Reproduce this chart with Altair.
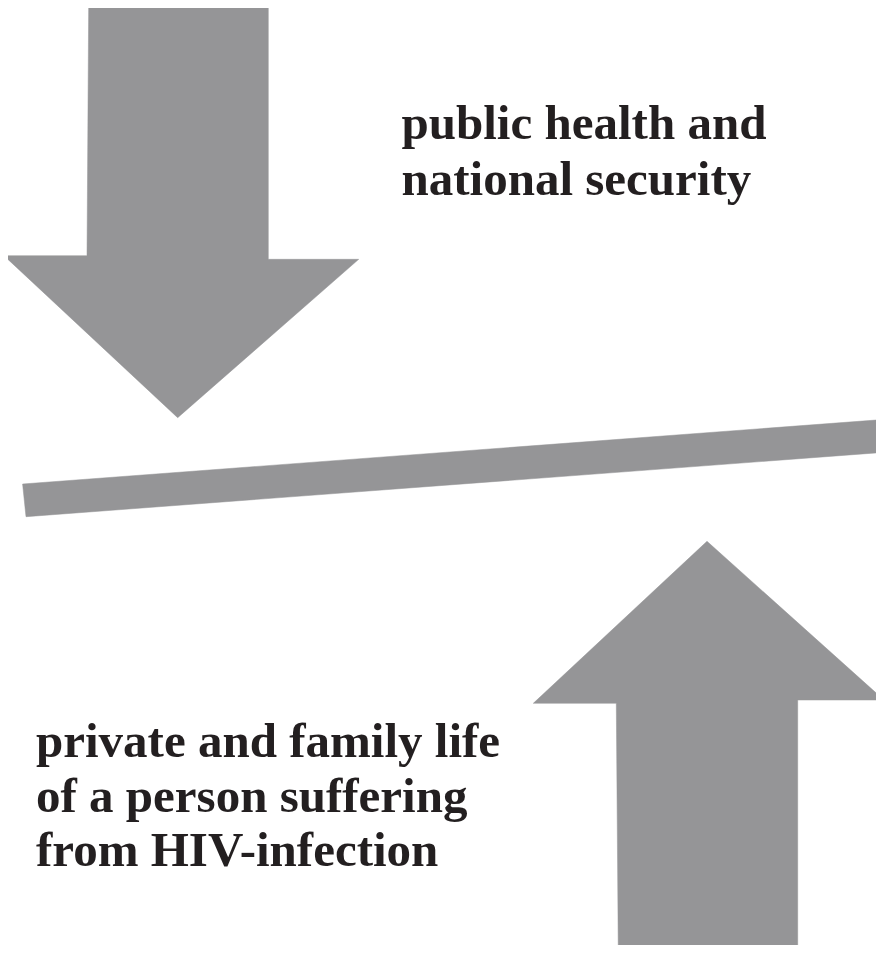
import altair as alt
import pandas as pd

# Shape outlines (in picture pixel units)
down_arrow_x = [88.7, 268.3, 268.3, 358.7, 177.7, 4.0, 87.0]
down_arrow_y = [4.3, 4.3, 259.3, 259.3, 417.7, 255.7, 255.7]

bar_x = [22.6, 876.6, 879.0, 26.0]
bar_y = [484.0, 420.0, 452.7, 516.7]

up_arrow_x = [707.0, 884.0, 797.7, 797.7, 618.3, 616.3, 533.3]
up_arrow_y = [541.3, 700.0, 700.0, 953.0, 953.0, 703.3, 703.3]

# Labels
label_lines = [
    "public health and",
    "national security",
    "private and family life",
    "of a person suffering",
    "from HIV-infection",
]
label_x = [401.5, 401.5, 36.0, 36.0, 36.0]
label_y = [139.0, 195.0, 757.0, 812.0, 866.0]

rows = []
for name, xs, ys in [("down", down_arrow_x, down_arrow_y),
                     ("bar", bar_x, bar_y),
                     ("up", up_arrow_x, up_arrow_y)]:
    for i, (x, y) in enumerate(zip(xs, ys)):
        rows.append({"shape": name, "i": i, "x": x, "y": y})
shapes = pd.DataFrame(rows)
labels = pd.DataFrame({"text": label_lines, "x": label_x, "y": label_y})

xs = alt.Scale(domain=[8, 876], nice=False, zero=False)
ys = alt.Scale(domain=[8, 945], nice=False, zero=False, reverse=True)

poly = alt.Chart(shapes).mark_line(
    filled=True, interpolate="linear-closed", fill="#959597",
    stroke="#959597", strokeWidth=0.5, clip=False
).encode(
    x=alt.X("x:Q", scale=xs, axis=None),
    y=alt.Y("y:Q", scale=ys, axis=None),
    detail="shape:N",
    order="i:Q",
)

text = alt.Chart(labels).mark_text(
    align="left", baseline="alphabetic", font="Liberation Serif",
    fontWeight="bold", fontSize=49, color="#231f20"
).encode(
    x=alt.X("x:Q", scale=xs, axis=None),
    y=alt.Y("y:Q", scale=ys, axis=None),
    text="text:N",
)

chart = alt.layer(poly, text).properties(
    width=868, height=937, padding=0,
    autosize=alt.AutoSizeParams(type="none"),
).configure_view(strokeOpacity=0, strokeWidth=0)

chart.save("out.html", embed_options={"renderer": "svg", "actions": False})
